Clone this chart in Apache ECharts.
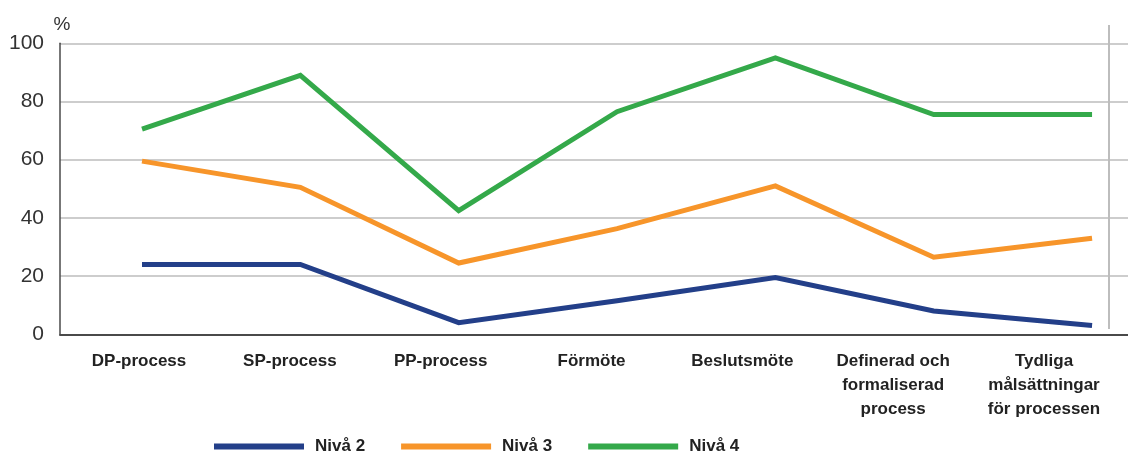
<!DOCTYPE html>
<html>
<head>
<meta charset="utf-8">
<script src="https://cdn.jsdelivr.net/npm/echarts@6/dist/echarts.min.js"></script>
<style>
  html, body { margin: 0; padding: 0; background: #ffffff; }
  #chart { width: 1128px; height: 453px; }
</style>
</head>
<body>
<div id="chart"></div>
<script>
// Categories along the horizontal axis
const categories = [
  'DP-process',
  'SP-process',
  'PP-process',
  'Förmöte',
  'Beslutsmöte',
  'Definerad och\nformaliserad\nprocess',
  'Tydliga\nmålsättningar\nför processen'
];

// Share (%) per level
const niva2 = [24, 24, 4, 11.5, 19.5, 8, 3];
const niva3 = [59.5, 50.5, 24.5, 36.3, 51, 26.5, 33];
const niva4 = [70.5, 89, 42.5, 76.5, 95, 75.5, 75.5];

const seriesNames = ['Nivå 2', 'Nivå 3', 'Nivå 4'];
const seriesColors = ['#233f89', '#f7952a', '#34a94a'];

const yTicks = [0, 20, 40, 60, 80, 100];

const FONT = '"Liberation Sans", Arial, sans-serif';

const chart = echarts.init(document.getElementById('chart'), null, { renderer: 'canvas' });

function toPairs(values) {
  return values.map((v, i) => [i, v]);
}

const allSeries = [niva2, niva3, niva4].map((vals, k) => ({
  name: seriesNames[k],
  type: 'line',
  xAxisIndex: 0,
  yAxisIndex: 0,
  data: toPairs(vals),
  symbol: 'none',
  smooth: false,
  lineStyle: { color: seriesColors[k], width: 5, cap: 'butt', join: 'miter' },
  itemStyle: { color: seriesColors[k] },
  emphasis: { disabled: true },
  z: 3
}));

const option = {
  backgroundColor: '#ffffff',
  animation: false,
  textStyle: { fontFamily: FONT },
  grid: [
    { left: 60, right: 0, top: 43.3, bottom: 118.7, containLabel: false },
    { left: 139, right: 84, top: 43.3, bottom: 118.7, containLabel: false }
  ],
  xAxis: [
    {
      type: 'value',
      gridIndex: 0,
      min: -0.518,
      max: 6.227,
      axisLine: { show: true, onZero: false, lineStyle: { color: '#4a4a4a', width: 2 } },
      axisTick: { show: false },
      axisLabel: { show: false },
      splitLine: { show: false }
    },
    {
      type: 'category',
      gridIndex: 1,
      data: categories,
      boundaryGap: false,
      axisLine: { show: false },
      axisTick: { show: false },
      splitLine: { show: false },
      axisLabel: {
        interval: 0,
        margin: 15,
        color: '#222222',
        fontFamily: FONT,
        fontWeight: 'bold',
        fontSize: 17,
        lineHeight: 24,
        align: 'center'
      }
    }
  ],
  yAxis: [
    {
      type: 'value',
      gridIndex: 0,
      min: 0,
      max: 100,
      interval: 20,
      name: '%',
      nameLocation: 'end',
      nameGap: 9,
      nameTextStyle: { color: '#333333', fontSize: 19, fontFamily: FONT, align: 'center', padding: [0, 0, 0, 4] },
      axisLine: { show: true, onZero: false, lineStyle: { color: '#4a4a4a', width: 1.5 } },
      axisTick: { show: false },
      axisLabel: {
        margin: 16,
        color: '#333333',
        fontSize: 21,
        fontFamily: FONT,
        formatter: v => (yTicks.indexOf(v) >= 0 ? String(v) : '')
      },
      splitLine: { show: true, lineStyle: { color: '#bdbdbd', width: 1.5 } }
    },
    {
      type: 'value',
      gridIndex: 1,
      min: 0,
      max: 100,
      show: false
    }
  ],
  legend: {
    top: 433,
    left: 209,
    orient: 'horizontal',
    itemWidth: 90,
    itemHeight: 6,
    itemGap: 36,
    icon: 'rect',
    selectedMode: false,
    data: seriesNames,
    textStyle: { color: '#222222', fontWeight: 'bold', fontSize: 17, fontFamily: FONT, padding: [0, 0, 0, 6] }
  },
  graphic: [
    {
      type: 'line',
      silent: true,
      shape: { x1: 1109, y1: 25, x2: 1109, y2: 329 },
      style: { stroke: '#bdbdbd', lineWidth: 2 }
    }
  ],
  series: allSeries
};

chart.setOption(option);
</script>
</body>
</html>
